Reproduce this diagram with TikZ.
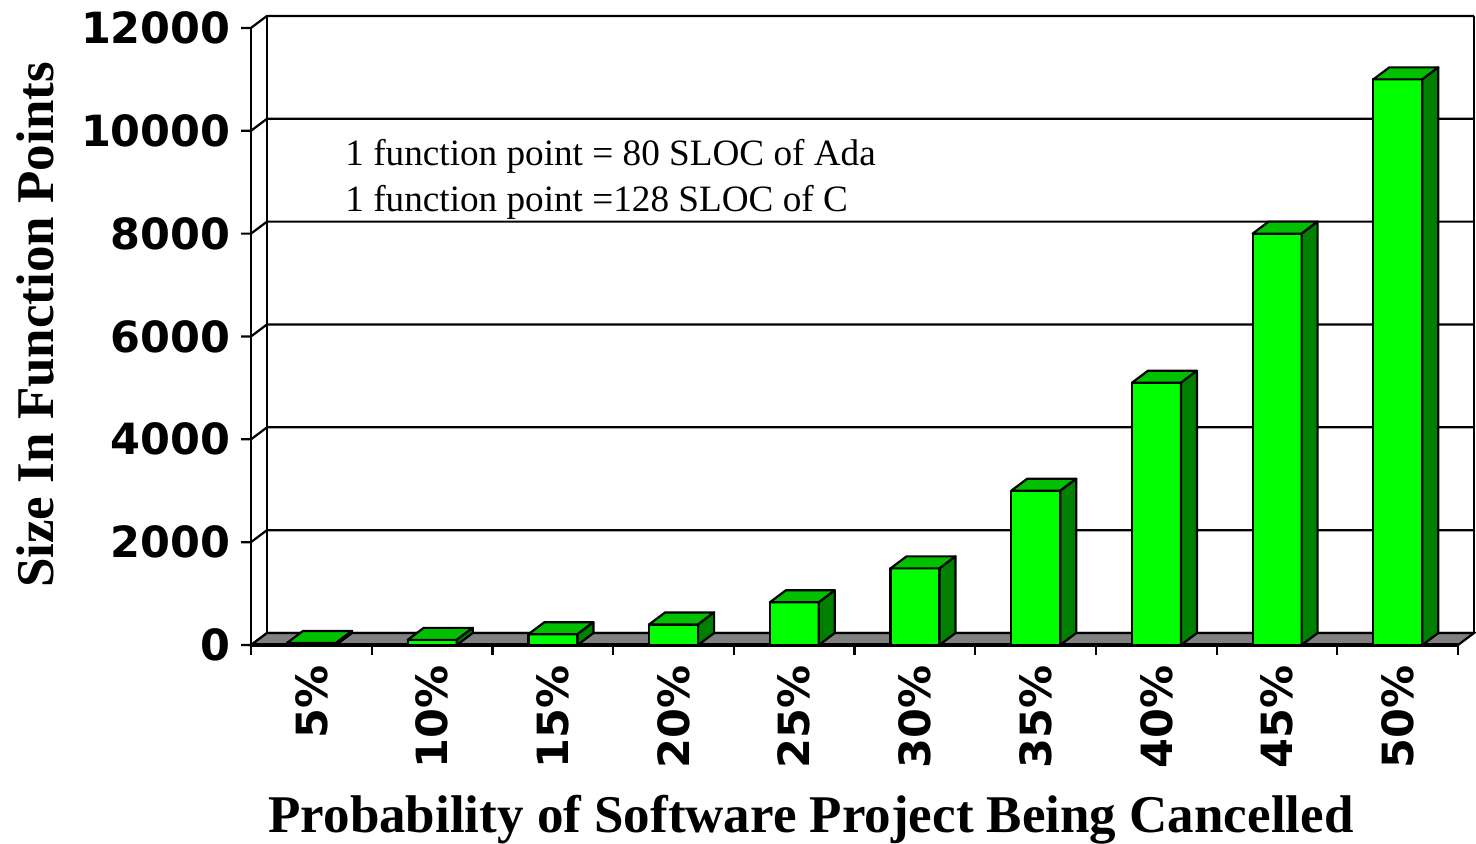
\documentclass[tikz,border=0pt]{standalone}
\usepackage{fontspec}
\setmainfont{Liberation Serif}
\newfontfamily\tickfont{DejaVu Sans}
\usetikzlibrary{calc}
\definecolor{BarFront}{HTML}{00FF00}
\definecolor{BarTop}{HTML}{00C000}
\definecolor{BarSide}{HTML}{008000}
\definecolor{FloorGray}{HTML}{808080}

\begin{document}
\begin{tikzpicture}[x=0.5pt, y=0.5pt,
  ln/.style={line width=1.1pt, draw=black},
  barface/.style={draw=black, fill=#1, line width=1.1pt, line join=round},
  ticklbl/.style={font=\tickfont\bfseries\fontsize{21.5}{25}\selectfont, inner sep=0pt},
  axtitle/.style={font=\bfseries\fontsize{26.5}{30}\selectfont, inner sep=0pt},
  note/.style={font=\fontsize{18.6}{23}\selectfont, inner sep=0pt, anchor=base west},
]
\useasboundingbox (0,0) rectangle (1476,843);
\foreach \v in {0,2000,...,12000}{
  \pgfmathsetmacro{\yy}{198+\v*0.05142}
  \draw[ln] (241,\yy) -- (251,\yy) -- ++(16,12) -- (1474,\yy+12);
  \node[ticklbl, anchor=east] (ylbl\v) at (231,\yy) {\v};
}
\draw[ln] (267,210) -- (267,827);
\draw[ln] (1474,210) -- (1474,827);
\draw[ln] (251,198) -- (251,815);
\draw[ln, fill=FloorGray] (251,198) -- (1458,198) -- (1474,210) -- (267,210) -- cycle;
\draw[line width=1.6pt] (251,198) -- (1458,198);
\foreach \i in {0,...,10}
  \draw[ln] (251+\i*120.7,198) -- ++(0,-10);
\foreach \p/\v [count=\i from 0] in {5/40,10/100,15/210,20/400,25/830,30/1490,35/3000,40/5100,45/8000,50/11000}{
  \pgfmathsetmacro{\xl}{251+\i*120.7+36}
  \pgfmathsetmacro{\hh}{\v*0.05142}
  \draw[barface=BarFront] (\xl,198) rectangle ++(49,\hh);
  \draw[barface=BarTop] (\xl,198+\hh) -- ++(16,12) -- ++(49,0) -- ++(-16,-12) -- cycle;
  \draw[barface=BarSide] (\xl+49,198) -- ++(16,12) -- ++(0,\hh) -- ++(-16,-12) -- cycle;
  \node[ticklbl, rotate=90, anchor=east] (xlbl\p) at (\xl+24.5,178) {\p\%};
}
\node[note] (note1) at (345,678) {1 function point = 80 SLOC of Ada};
\node[note] (note2) at (345,632) {1 function point =128 SLOC of C};
\node[axtitle, rotate=90, anchor=base] (ytitle) at (53,518) {Size In Function Points};
\node[axtitle, anchor=base] (xtitle) at (811,11) {Probability of Software Project Being Cancelled};
\end{tikzpicture}
\end{document}
